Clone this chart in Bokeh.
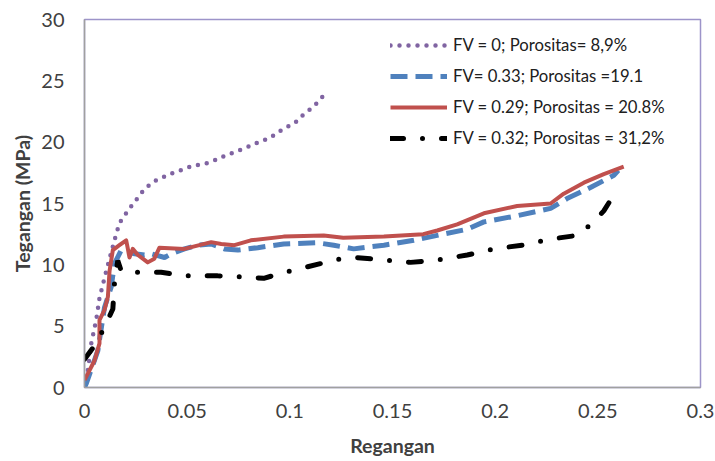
from bokeh.plotting import figure
from bokeh.models import Legend, LegendItem, Range1d, FixedTicker
from bokeh.embed import file_html
from bokeh.resources import INLINE

# Data
fv0_x = [0, 0.0008, 0.0033, 0.0057, 0.0073, 0.0106, 0.0146, 0.017, 0.0219, 0.0244, 0.0273, 0.0308,
         0.0349, 0.039, 0.0438, 0.0484, 0.0531, 0.058, 0.0625, 0.067, 0.0716, 0.0763, 0.0808,
         0.0855, 0.0903, 0.0941, 0.0982, 0.1026, 0.1063, 0.110, 0.1136, 0.1169]
fv0_y = [0, 0.3, 3.6, 5.5, 7.3, 9.5, 12.0, 13.4, 14.6, 15.1, 15.8, 16.4, 16.9, 17.2, 17.55, 17.8,
         18.1, 18.2, 18.45, 18.8, 19.1, 19.4, 19.7, 20.05, 20.35, 20.8, 21.2, 21.6, 22.2, 22.7,
         23.25, 23.9]

fv33_x = [0, 0.0008, 0.0065, 0.0097, 0.013, 0.0146, 0.0179, 0.0244, 0.0292, 0.0325, 0.039, 0.0422,
          0.0487, 0.0552, 0.0617, 0.0682, 0.0747, 0.0844, 0.097, 0.1133, 0.1214, 0.1311, 0.1458,
          0.1604, 0.1718, 0.1864, 0.1945, 0.2107, 0.227, 0.235, 0.2464, 0.2578, 0.26]
fv33_y = [0, 0.3, 3.0, 6.5, 8.2, 10.1, 11.2, 10.9, 10.8, 10.9, 10.6, 10.9, 11.3, 11.6, 11.7, 11.3,
          11.2, 11.4, 11.7, 11.8, 11.6, 11.3, 11.6, 12.0, 12.4, 12.9, 13.5, 14.0, 14.6, 15.4, 16.3,
          17.3, 17.7]

fv29_x = [0, 0.0049, 0.0073, 0.0073, 0.0097, 0.0114, 0.0122, 0.0138, 0.017, 0.0203, 0.021, 0.0219,
          0.0235, 0.026, 0.0308, 0.034, 0.0365, 0.0487, 0.0617, 0.0666, 0.073, 0.081, 0.097,
          0.1165, 0.126, 0.1458, 0.165, 0.1718, 0.1815, 0.1945, 0.2107, 0.227, 0.2334, 0.2432,
          0.2529, 0.2626]
fv29_y = [0.6, 2.2, 3.6, 5.5, 6.3, 7.4, 9.5, 11.2, 11.6, 12.0, 11.4, 10.6, 11.3, 10.8, 10.2, 10.5,
          11.4, 11.3, 11.85, 11.7, 11.6, 12.0, 12.3, 12.4, 12.2, 12.3, 12.5, 12.8, 13.3, 14.2,
          14.8, 15.0, 15.8, 16.7, 17.4, 18.0]

fv32_x = [0, 0.0049, 0.0097, 0.0138, 0.0146, 0.0162, 0.0179, 0.026, 0.0373, 0.0487, 0.0649, 0.0795,
          0.0873, 0.0955, 0.105, 0.115, 0.1214, 0.132, 0.1458, 0.1588, 0.1718, 0.1864, 0.1993,
          0.2131, 0.227, 0.24, 0.248, 0.2529, 0.2578]
fv32_y = [2.3, 3.4, 4.9, 6.4, 8.5, 10.35, 9.5, 9.4, 9.4, 9.1, 9.1, 9.0, 8.9, 9.3, 9.7, 10.1, 10.4,
          10.6, 10.4, 10.2, 10.4, 10.8, 11.3, 11.6, 12.1, 12.4, 13.5, 14.4, 15.7]

labels = ["FV = 0; Porositas= 8,9%", "FV= 0.33; Porositas =19.1",
          "FV = 0.29; Porositas = 20.8%", "FV = 0.32; Porositas = 31,2%"]
x_ticks = [0, 0.05, 0.1, 0.15, 0.2, 0.25, 0.3]
x_tick_labels = ["0", "0.05", "0.1", "0.15", "0.2", "0.25", "0.3"]
y_ticks = [0, 5, 10, 15, 20, 25, 30]

p = figure(width=715, height=461, output_backend="svg", toolbar_location=None,
           x_range=Range1d(0, 0.3), y_range=Range1d(0, 30),
           min_border_left=84, min_border_right=15, min_border_top=19, min_border_bottom=74)
p.background_fill_color = "white"
p.border_fill_color = "white"
p.outline_line_color = "#9D94C9"
p.outline_line_width = 1.5
p.xgrid.visible = False
p.ygrid.visible = False

FONT = "Lato"
for ax in (p.xaxis[0], p.yaxis[0]):
    ax.axis_line_color = "#A0A0A0"
    ax.axis_line_width = 1.5
    ax.major_tick_line_color = None
    ax.minor_tick_line_color = None
    ax.major_tick_out = 0
    ax.major_tick_in = 0
    ax.minor_tick_out = 0
    ax.major_label_text_font = FONT
    ax.major_label_text_font_size = "20px"
    ax.major_label_text_color = "#404040"
    ax.axis_label_text_font = FONT
    ax.axis_label_text_font_size = "19.5px"
    ax.axis_label_text_font_style = "bold"
    ax.axis_label_text_color = "#404040"

p.xaxis.ticker = FixedTicker(ticks=x_ticks)
p.xaxis.major_label_overrides = {t: l for t, l in zip(x_ticks, x_tick_labels)}
p.yaxis.ticker = FixedTicker(ticks=y_ticks)
p.xaxis.major_label_standoff = 16
p.yaxis.major_label_standoff = 20
p.xaxis.axis_label = "Regangan"
p.yaxis.axis_label = "Tegangan (MPa)"
p.xaxis.axis_label_standoff = 13
p.yaxis.axis_label_standoff = 4

r0 = p.line(fv0_x, fv0_y, line_color="#8064A2", line_width=4.5, line_dash="0 9", line_cap="round")
r1 = p.line(fv33_x, fv33_y, line_color="#4F81BD", line_width=5, line_dash="17 8")
r2 = p.line(fv29_x, fv29_y, line_color="#C0504D", line_width=4, line_join="round")
r3 = p.line(fv32_x, fv32_y, line_color="black", line_width=5, line_dash="13 19 0 19", line_cap="round")

legend = Legend(items=[LegendItem(label=labels[i], renderers=[r]) for i, r in enumerate([r0, r1, r2, r3])],
                location=(306, 239), glyph_width=57, glyph_height=20, label_height=20,
                spacing=11, padding=0, margin=0, label_standoff=6,
                label_text_font=FONT, label_text_font_size="16.7px", label_text_color="#202020",
                border_line_color=None, background_fill_alpha=0)
p.add_layout(legend)

open("out.html", "w").write(file_html(p, INLINE))
